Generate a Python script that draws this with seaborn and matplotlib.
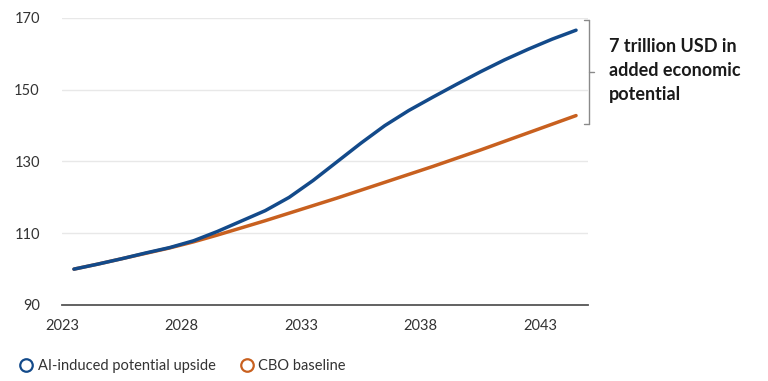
import matplotlib
matplotlib.use("Agg")
import matplotlib.pyplot as plt
from matplotlib.lines import Line2D
import seaborn as sns
import pandas as pd

years = [2023.5 + i for i in range(22)]
ai_upside = [100.0, 101.4, 102.9, 104.5, 106.0, 107.9, 110.5, 113.4, 116.3, 120.0,
             124.7, 129.9, 135.1, 140.0, 144.2, 147.9, 151.5, 155.0, 158.3, 161.3,
             164.1, 166.6]
cbo_baseline = [100.0, 101.4, 102.9, 104.4, 105.9, 107.6, 109.5, 111.5, 113.5, 115.6,
                117.7, 119.8, 122.0, 124.2, 126.4, 128.6, 130.9, 133.2, 135.6, 138.0,
                140.4, 142.8]
series_names = ["AI-induced potential upside", "CBO baseline"]
colors = ["#134a8a", "#c8601f"]
x_ticks = [2023, 2028, 2033, 2038, 2043]
y_ticks = [90, 110, 130, 150, 170]
annotation = "7 trillion USD in\nadded economic\npotential"

df = pd.DataFrame({
    "year": years * 2,
    "value": ai_upside + cbo_baseline,
    "series": [series_names[0]] * len(years) + [series_names[1]] * len(years),
})

sns.set_theme(style="white")
plt.rcParams["font.family"] = ["Lato", "DejaVu Sans"]

fig = plt.figure(figsize=(7.68, 3.81), dpi=100)
ax = fig.add_axes([62 / 768, 1 - 305 / 381, (588 - 62) / 768, (305 - 18) / 381])

sns.lineplot(data=df, x="year", y="value", hue="series", palette=colors,
             hue_order=series_names, linewidth=2.5, ax=ax, legend=False,
             zorder=3)
for line in ax.get_lines():
    if line.get_color() == colors[0]:
        line.set_zorder(4)

ax.set_xlim(2023, 2045)
ax.set_ylim(90, 170)
ax.set_xticks(x_ticks)
ax.set_yticks(y_ticks)
ax.set_xlabel("")
ax.set_ylabel("")
ax.grid(axis="y", color="#e8e8e8", linewidth=1)
ax.grid(axis="x", visible=False)
for s in ["top", "right", "left"]:
    ax.spines[s].set_visible(False)
ax.spines["bottom"].set_color("#555555")
ax.spines["bottom"].set_linewidth(1.3)
ax.tick_params(axis="y", length=0, pad=16, labelsize=10.5, labelcolor="#333333")
ax.tick_params(axis="x", length=0, pad=10, labelsize=10.5, labelcolor="#333333")

# bracket
bx = 2045.05
btop, bbot, bmid = 169.5, 140.5, 155.0
dx = 0.2
bc = "#8a8a8a"
ax.plot([bx, bx], [bbot, btop], color=bc, lw=1, clip_on=False)
ax.plot([bx - dx, bx], [btop, btop], color=bc, lw=1, clip_on=False)
ax.plot([bx - dx, bx], [bbot, bbot], color=bc, lw=1, clip_on=False)
ax.plot([bx, bx + dx], [bmid, bmid], color=bc, lw=1, clip_on=False)

fig.text(609 / 768, 1 - 38 / 381, annotation, ha="left", va="top",
         fontsize=13, fontweight="bold", color="#1a1a1a", linespacing=1.5,
         transform=fig.transFigure)

handles = [Line2D([], [], marker="o", linestyle="none", markersize=9,
                  markerfacecolor="none", markeredgecolor=c, markeredgewidth=1.6)
           for c in colors]
fig.legend(handles, series_names, loc="center left",
           bbox_to_anchor=(6 / 768, 1 - 366 / 381), ncol=2, frameon=False,
           fontsize=10.5, handletextpad=0.3, columnspacing=1.6, handlelength=1.0,
           labelcolor="#333333")

fig.savefig("out.png", dpi=100)
